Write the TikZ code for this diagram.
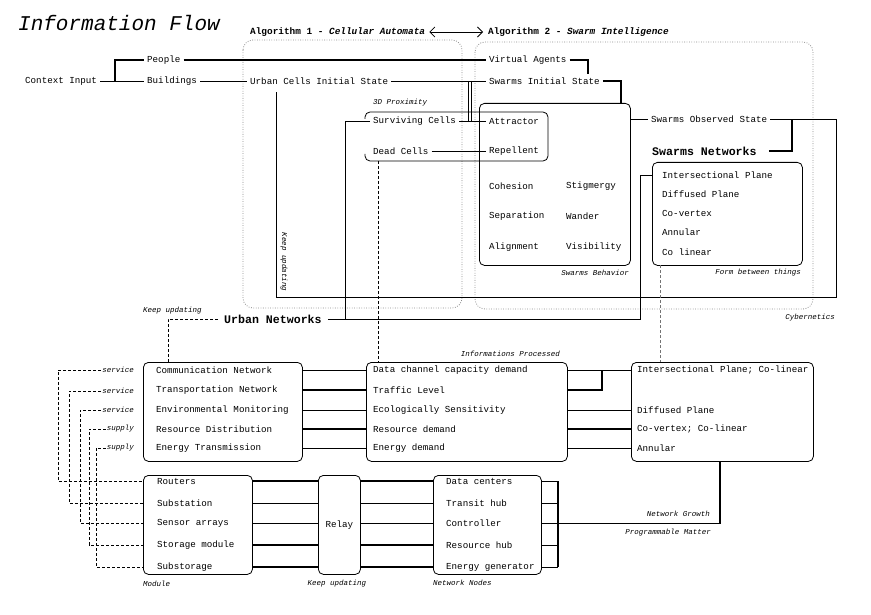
\documentclass[tikz,border=0pt]{standalone}
\usepackage{fontspec}
\setmainfont{Liberation Mono}
\usetikzlibrary{arrows.meta,calc}
\newcommand\itemfnt{\fontsize{9.2}{10}\selectfont}
\newcommand\smallfnt{\fontsize{7.5}{8}\selectfont\itshape}
\newcommand\titlefnt{\fontsize{21}{24}\selectfont\itshape}
\newcommand\algfnt{\fontsize{9.4}{11}\selectfont\bfseries}
\newcommand\netfnt{\fontsize{11.6}{13}\selectfont\bfseries}
\begin{document}
\begin{tikzpicture}[x=1pt,y=-1pt,
  item/.style={anchor=west, inner xsep=3pt, inner ysep=1pt, font=\itemfnt},
  sml/.style={inner sep=1pt, font=\smallfnt},
  bx/.style={draw, line width=0.8pt, rounded corners=5pt, anchor=north west, inner sep=0pt},
  ln/.style={line width=0.8pt},
  lnb/.style={line width=1.6pt},
  dsh/.style={line width=0.8pt, dash pattern=on 3pt off 2pt},
  dotframe/.style={draw=black!45, line width=0.8pt, dash pattern=on 0.8pt off 1.6pt, rounded corners=10pt}]
\useasboundingbox (0,0) rectangle (871,615);

% ---------- title and algorithm headers
\node[anchor=west, inner sep=0pt, font=\titlefnt] (title) at (18,23) {Information Flow};
\node[anchor=west, inner xsep=2pt, font=\algfnt] (alg1) at (248,32) {Algorithm 1 - \textit{Cellular Automata}};
\node[anchor=west, inner xsep=2pt, font=\algfnt] (alg2) at (486,32) {Algorithm 2 - \textit{Swarm Intelligence}};
\draw[ln, {Straight Barb[length=5pt,width=10pt]}-{Straight Barb[length=5pt,width=10pt]}] ([xshift=2pt]alg1.east) -- ([xshift=-3pt]alg2.west);

% ---------- dotted frames
\draw[dotframe] (243,40) rectangle (462,308);
\draw[dotframe] (475,42) rectangle (813,309);
\node[sml, anchor=east] (cyb) at (836,318) {Cybernetics};

% ---------- top row
\node[item] (ctx) at (22,81) {Context Input};
\node[item] (people) at (144,60) {People};
\node[item] (buildings) at (144,81) {Buildings};
\node[item] (ucis) at (247,81) {Urban Cells Initial State};
\node[item] (va) at (486,60) {Virtual Agents};
\node[item] (sis) at (486,81) {Swarms Initial State};

\coordinate (cjoin) at (115,81);
\draw[ln] (ctx.east) -- (buildings.west);
\draw[lnb] (cjoin) |- (people.west);
\draw[lnb] (people.east) -- (va.west);
\draw[ln] (buildings.east) -- (ucis.west);
\draw[ln] (ucis.east) -- (sis.west);
\coordinate (vaend) at (588,74);
\draw[lnb] (va.east) -| (vaend);

% ---------- swarms behavior box
\node[bx, minimum width=151pt, minimum height=162pt] (swb) at (479,103) {};
\draw[lnb] (sis.east) -| ([xshift=-10pt]swb.north east);
\node[item] (coh) at (486,186) {Cohesion};
\node[item] (stig) at (563,186) {Stigmergy};
\node[item] (sep) at (486,216) {Separation};
\node[item] (wan) at (563,216) {Wander};
\node[item] (ali) at (486,247) {Alignment};
\node[item] (vis) at (563,247) {Visibility};
\node[sml, anchor=east] (swbl) at (630,273) {Swarms Behavior};

% ---------- 3D proximity box
\draw[ln, rounded corners=5pt] (365,119) -- (365,112) -- (548,112) -- (548,161) -- (365,161) -- (365,154);
\node[sml, anchor=west] (prox) at (372,103) {3D Proximity};
\node[item] (sc) at (370,121) {Surviving Cells};
\node[item] (dc) at (370,151) {Dead Cells};
\node[item] (attr) at (486,121) {Attractor};
\node[item] (rep) at (486,151) {Repellent};
\draw[ln] (sc.east) -- (attr.west);
\draw[ln] (dc.east) -- (rep.west);
\coordinate (ja) at (468,81); \coordinate (jb) at (471,81);
\draw[ln] (ja) -- (ja |- sc.east);
\draw[ln] (jb) -- (jb |- sc.east);

% ---------- swarms observed state / networks
\node[item] (sos) at (648,119) {Swarms Observed State};
\draw[ln] (swb.east |- sos.west) -- (sos.west);
\node[anchor=west, inner sep=0pt, font=\netfnt] (snt) at (652,151) {Swarms Networks};
\coordinate (sn1) at (792,119);
\draw[lnb] ([xshift=12pt]snt.east) -| (sn1);
\node[bx, minimum width=150pt, minimum height=103pt] (snb) at (652,162) {};
\node[item] (ip) at (659,175) {Intersectional Plane};
\node[item] (dfp) at (659,194) {Diffused Plane};
\node[item] (cov) at (659,213) {Co-vertex};
\node[item] (anu) at (659,232) {Annular};
\node[item] (col) at (659,252) {Co linear};
\node[sml, anchor=east] (fbt) at (802,273) {Form between things};

% ---------- keep updating loop
\coordinate (k1) at (836,297);
\coordinate (k2) at (276,92);
\draw[ln] (sos.east) -| (k1) -| (k2);
\node[sml, rotate=-90] (kuv) at (284,262) {Keep updating};

% ---------- urban networks
\node[anchor=west, inner xsep=6pt, inner ysep=0pt, font=\netfnt] (un) at (218,319) {Urban Networks};
\coordinate (unturn) at (640,319);
\draw[ln] (un.east) -- (unturn) |- (snb.west |- ip.west);
\coordinate (scdown) at (345,319);
\draw[ln] (sc.west) -| (scdown);
\node[sml, anchor=west] (ku1) at (142,311) {Keep updating};

% ---------- lower boxes
\node[bx, minimum width=159pt, minimum height=99pt] (boxA) at (143,362) {};
\node[bx, minimum width=201pt, minimum height=99pt] (boxM) at (366,362) {};
\node[bx, minimum width=182pt, minimum height=99pt] (boxR) at (631,362) {};
\node[bx, minimum width=109pt, minimum height=99pt] (boxB) at (143,475) {};
\node[bx, minimum width=42pt, minimum height=99pt] (relay) at (318,475) {};
\node[bx, minimum width=108pt, minimum height=99pt] (boxD) at (433,475) {};
\node[font=\itemfnt] (relayt) at (relay.center) {Relay};

\node[sml, anchor=east] (ipr) at (561,354) {Informations Processed};

% dashed drops
\coordinate (d1) at (660,265);
\draw[dsh, black!55] (d1) -- (d1 |- boxR.north);
\coordinate (d2) at (378,161);
\draw[dsh] (d2) -- (d2 |- boxM.north);
\coordinate (d3) at (168,362);
\draw[dsh] (un.west) -| (d3);

% box A items
\node[item] (comm) at (153,370) {Communication Network};
\node[item] (trans) at (153,390) {Transportation Network};
\node[item] (env) at (153,410) {Environmental Monitoring};
\node[item] (resd) at (153,429) {Resource Distribution};
\node[item] (enet) at (153,448) {Energy Transmission};
% box M items
\node[item] (dcc) at (370,370) {Data channel capacity demand};
\node[item] (tl) at (370,390) {Traffic Level};
\node[item] (es) at (370,410) {Ecologically Sensitivity};
\node[item] (rd) at (370,429) {Resource demand};
\node[item] (ed) at (370,448) {Energy demand};
% box R items
\node[item] (ipc) at (634,370) {Intersectional Plane; Co-linear};
\node[item] (dp) at (634,410) {Diffused Plane};
\node[item] (cvc) at (634,429) {Co-vertex; Co-linear};
\node[item] (ann) at (634,448) {Annular};

\draw[ln] (boxA.east |- comm) -- (boxM.west |- dcc);
\draw[lnb] (boxA.east |- trans) -- (boxM.west |- tl);
\draw[ln] (boxA.east |- env) -- (boxM.west |- es);
\draw[lnb] (boxA.east |- resd) -- (boxM.west |- rd);
\draw[ln] (boxA.east |- enet) -- (boxM.west |- ed);

\coordinate (mj) at (602,370);
\draw[ln] (boxM.east |- dcc) -- (boxR.west |- ipc);
\draw[lnb] (boxM.east |- tl) -| (mj);
\draw[ln] (boxM.east |- es) -- (boxR.west |- dp);
\draw[lnb] (boxM.east |- rd) -- (boxR.west |- cvc);
\draw[ln] (boxM.east |- ed) -- (boxR.west |- ann);

% left labels
\node[sml, anchor=east] (s1) at (135,370) {service};
\node[sml, anchor=east] (s2) at (135,391) {service};
\node[sml, anchor=east] (s3) at (135,410) {service};
\node[sml, anchor=east] (s4) at (135,429) {supply};
\node[sml, anchor=east] (s5) at (135,448) {supply};

% box B items
\node[item] (rout) at (154,481) {Routers};
\node[item] (subs) at (154,503) {Substation};
\node[item] (sens) at (154,523) {Sensor arrays};
\node[item] (stor) at (154,545) {Storage module};
\node[item] (subst) at (154,567) {Substorage};
% box D items
\node[item] (datac) at (443,481) {Data centers};
\node[item] (transit) at (443,503) {Transit hub};
\node[item] (ctrl) at (443,523) {Controller};
\node[item] (reshub) at (443,545) {Resource hub};
\node[item] (energ) at (443,567) {Energy generator};

\coordinate (v1) at (58,481);
\coordinate (v2) at (69,503);
\coordinate (v3) at (80,523);
\coordinate (v4) at (89,545);
\coordinate (v5) at (96,567);
\draw[dsh] (s1.west) -| (v1) -- (boxB.west |- rout);
\draw[dsh] (s2.west) -| (v2) -- (boxB.west |- subs);
\draw[dsh] (s3.west) -| (v3) -- (boxB.west |- sens);
\draw[dsh] (s4.west) -| (v4) -- (boxB.west |- stor);
\draw[dsh] (s5.west) -| (v5) -- (boxB.west |- subst);

\draw[lnb] (boxB.east |- rout) -- (relay.west |- rout);
\draw[ln] (boxB.east |- subs) -- (relay.west |- subs);
\draw[ln] (boxB.east |- sens) -- (relay.west |- sens);
\draw[lnb] (boxB.east |- stor) -- (relay.west |- stor);
\draw[lnb] (boxB.east |- subst) -- (relay.west |- subst);

\draw[lnb] (relay.east |- rout) -- (boxD.west |- datac);
\draw[ln] (relay.east |- subs) -- (boxD.west |- transit);
\draw[ln] (relay.east |- sens) -- (boxD.west |- ctrl);
\draw[lnb] (relay.east |- stor) -- (boxD.west |- reshub);
\draw[lnb] (relay.east |- subst) -- (boxD.west |- energ);

% right bracket of nodes
\coordinate (bx1) at (558,481);
\coordinate (bx5) at (558,567);
\draw[ln] (boxD.east |- datac) -- (bx1 |- datac);
\draw[ln] (boxD.east |- transit) -- (bx1 |- transit);
\draw[ln] (boxD.east |- ctrl) -- (bx1 |- ctrl);
\draw[ln] (boxD.east |- reshub) -- (bx1 |- reshub);
\draw[ln] (boxD.east |- energ) -- (bx1 |- energ);
\draw[lnb] (bx1) -- (bx5);
\coordinate (ng) at (720,461);
\draw[ln] (bx1 |- ctrl) -| (ng);
\draw[lnb] (ng) -- ++(0,62);

\node[sml, anchor=east] (ngl) at (711,514) {Network Growth};
\node[sml, anchor=east] (pml) at (712,533) {Programmable Matter};
\node[sml, anchor=west] (modl) at (142,584) {Module};
\node[sml] (kul) at (337,584) {Keep updating};
\node[sml, anchor=west] (nnl) at (432,583) {Network Nodes};
\end{tikzpicture}
\end{document}
